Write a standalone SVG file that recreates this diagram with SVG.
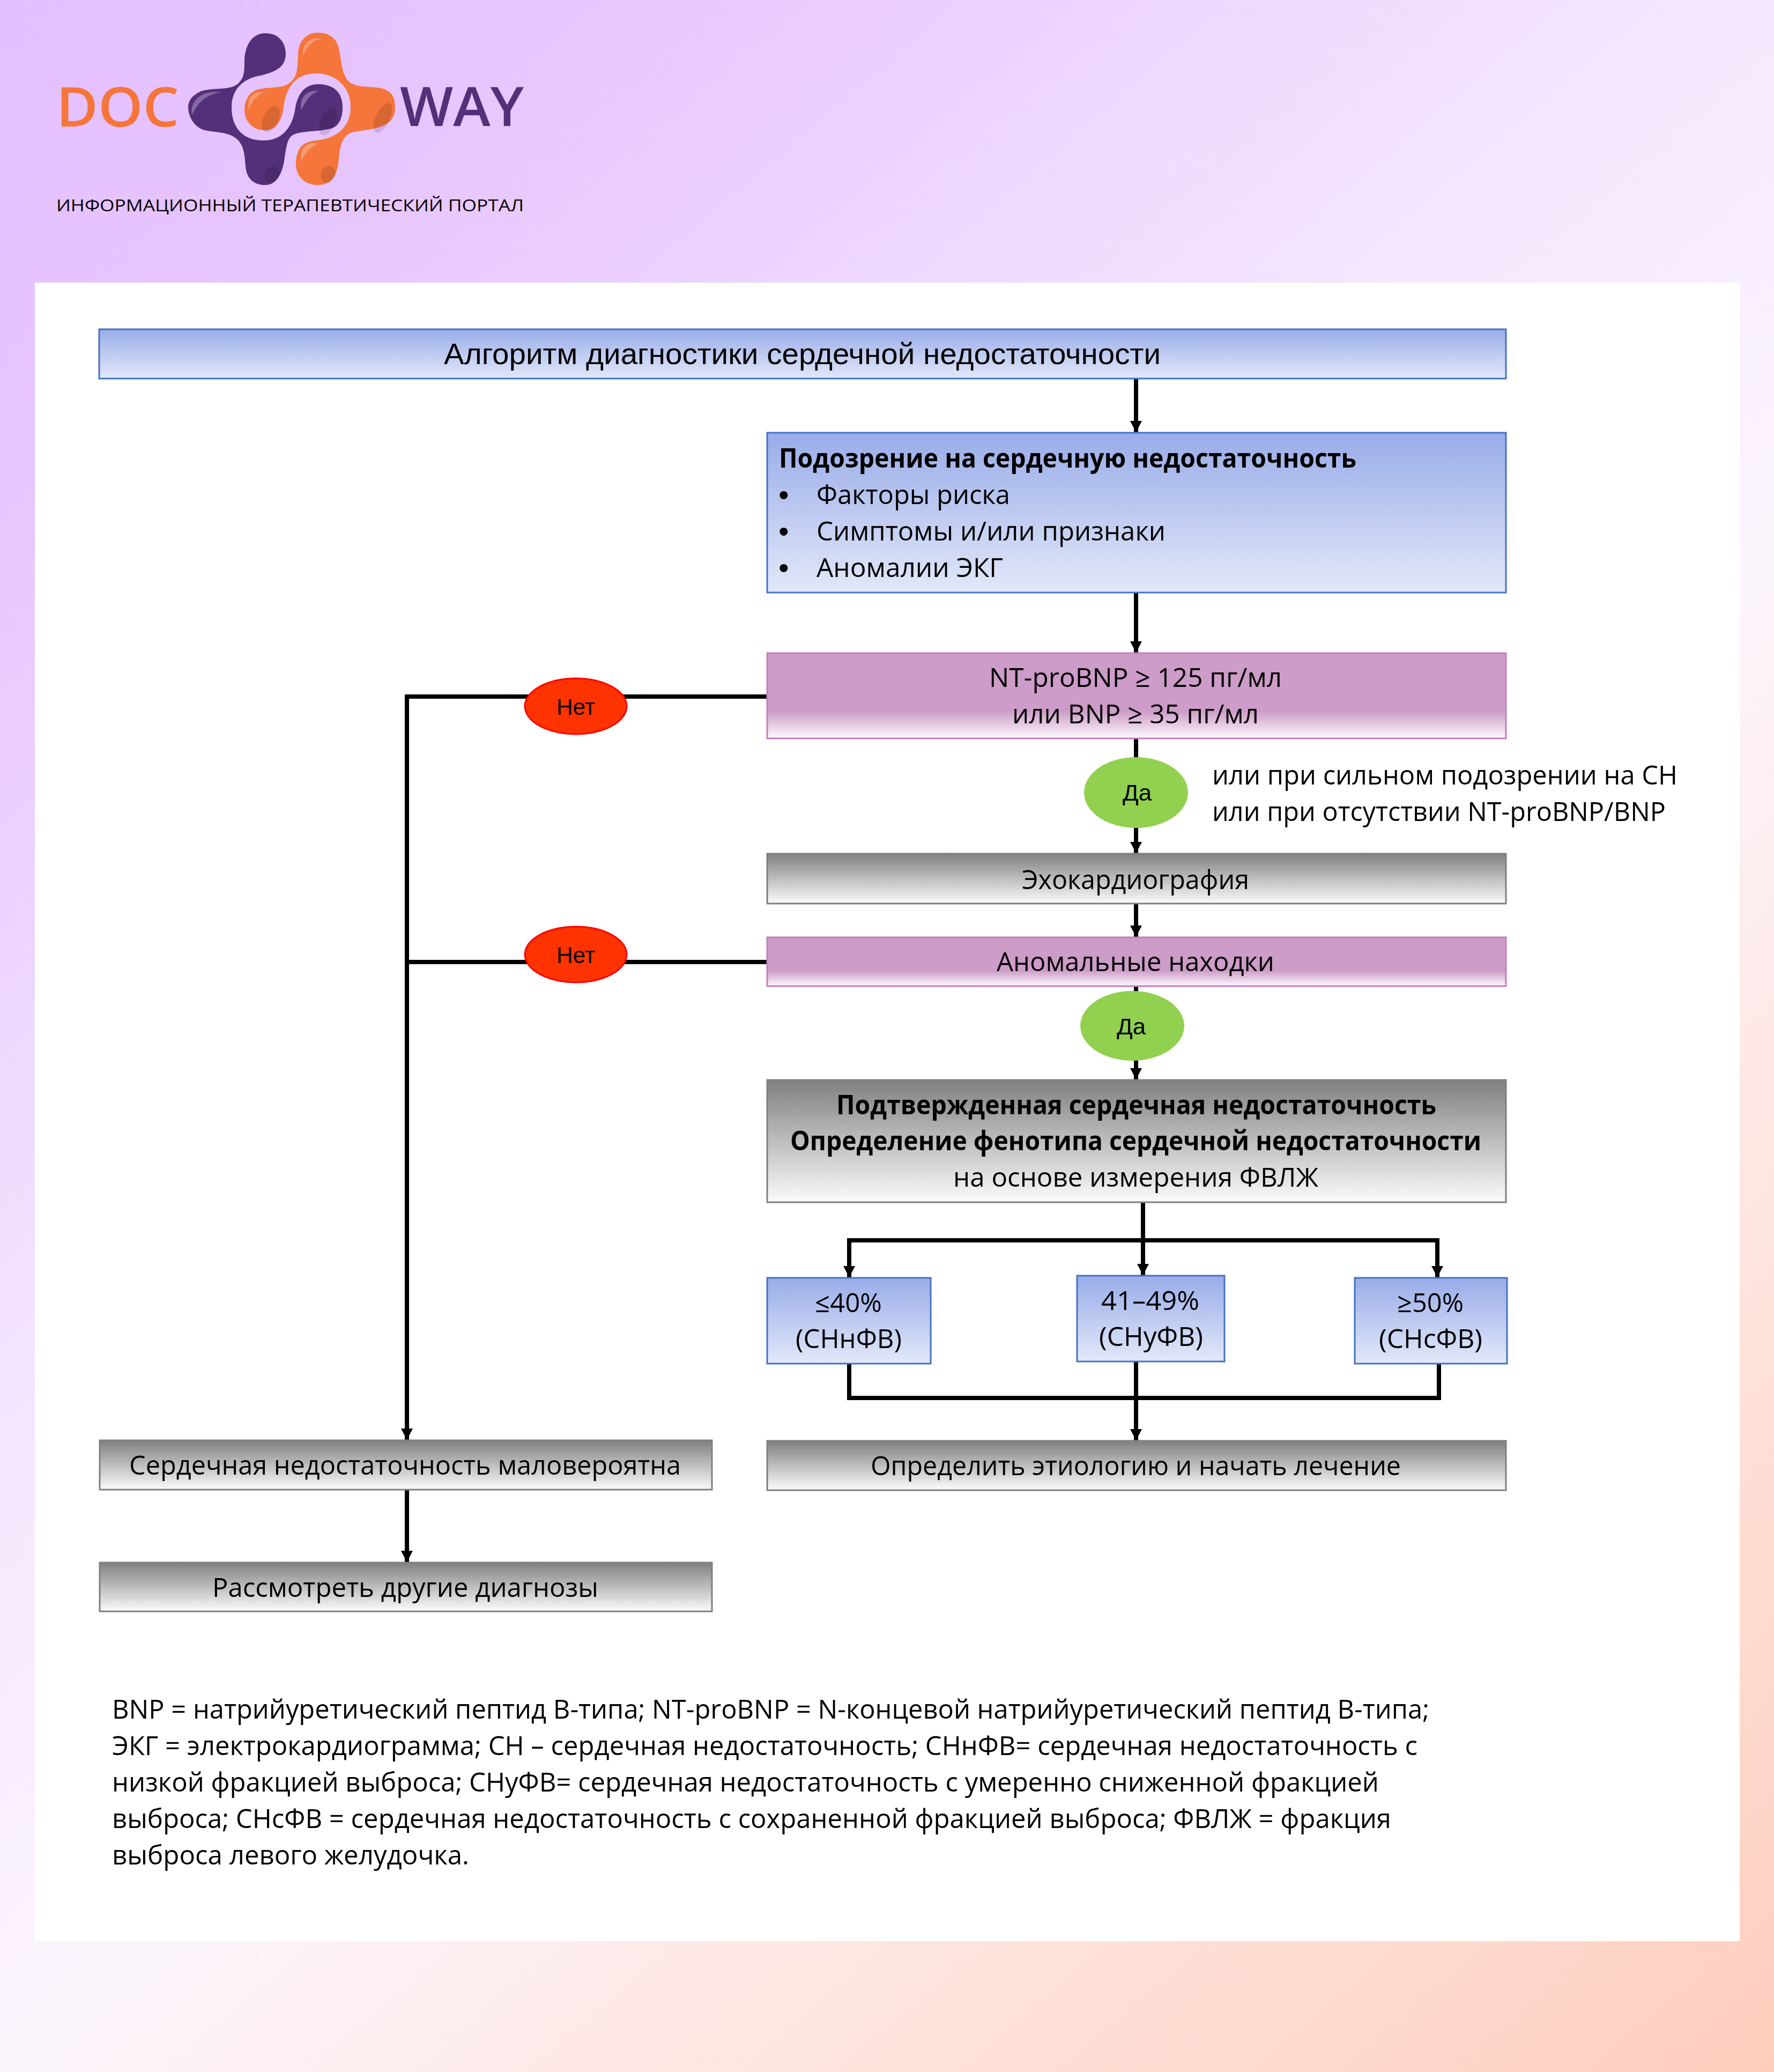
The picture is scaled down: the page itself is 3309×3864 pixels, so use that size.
<svg xmlns="http://www.w3.org/2000/svg" width="3309" height="3864" viewBox="0 0 3309 3864">
<defs>
<linearGradient id="bg" gradientUnits="userSpaceOnUse" x1="0" y1="0" x2="3309" y2="3864">
<stop offset="0" stop-color="#e4bfff"/><stop offset="0.14" stop-color="#e7c5ff"/><stop offset="0.42" stop-color="#f4e8fe"/><stop offset="0.577" stop-color="#fcf5fd"/><stop offset="0.79" stop-color="#fee2da"/><stop offset="1" stop-color="#fecdbd"/>
</linearGradient>
<linearGradient id="blue" x1="0" y1="0" x2="0" y2="1"><stop offset="0" stop-color="#98ace8"/><stop offset="1" stop-color="#e3e8f9"/></linearGradient>
<linearGradient id="pink" x1="0" y1="0" x2="0" y2="1"><stop offset="0" stop-color="#cd9cc8"/><stop offset="0.68" stop-color="#cd9cc8"/><stop offset="1" stop-color="#fdfafd"/></linearGradient>
<linearGradient id="grey" x1="0" y1="0" x2="0" y2="1"><stop offset="0" stop-color="#808080"/><stop offset="1" stop-color="#fbfbfb"/></linearGradient>
<marker id="arrow" markerUnits="userSpaceOnUse" markerWidth="22" markerHeight="22" refX="21" refY="11" orient="auto"><path d="M0 0L21 11L0 22z" fill="#000"/></marker>
</defs>
<style>
text{font-family:"Open Sans","Noto Sans","Liberation Sans",sans-serif;font-size:50px;fill:#000}
.b{font-weight:700}
.ar{font-family:"Liberation Sans",Arial,sans-serif;font-size:42px}
.dot{font-family:"Liberation Sans",Arial,sans-serif;font-size:56px}
.line{fill:none;stroke:#000;stroke-width:8}
.arr{marker-end:url(#arrow)}
.bl{fill:url(#blue);stroke:#4472c4;stroke-width:3}
.pk{fill:url(#pink);stroke:#c27fbd;stroke-width:3}
.gr{fill:url(#grey);stroke:#7f7f7f;stroke-width:3}
.no{fill:#ff3300;stroke:#ff0000;stroke-width:3}
.yes{fill:#92d050;stroke:none}
.pu{fill:#54307a}.or{fill:#f5753a}
.hi{fill:#fff;opacity:.28}.sh{fill:#000;opacity:.12}
</style>
<rect width="3309" height="3864" fill="url(#bg)"/>
<rect x="65" y="527" width="3180" height="3093" fill="#fff"/>

<g id="logo">
<path class="pu" d="M495 62C470 62 456 85 456 115C456 135 455 145 445 155C430 170 400 162 375 170C358 178 351 188 351 200C351 215 360 235 379 242C400 248 425 245 440 258C456 270 456 290 458 310C460 335 475 345 495 345C515 345 526 325 530 300C534 275 535 255 550 250C570 243 600 246 622 238C635 232 639 215 639 200C639 180 630 157 593 157C565 157 555 180 551 200C548 225 535 262 491 262C455 262 432 240 432 200C432 165 455 148 480 142C515 135 533 125 533 100C533 80 520 62 495 62Z"/>
<path class="or" d="M593 61C570 61 557 78 556 100C555 125 555 140 545 150C530 168 505 160 480 167C462 173 456 190 456 205C456 225 470 243 495 243C515 243 526 225 529 200C533 165 550 137 589 137C630 137 654 165 654 200C654 235 630 258 590 262C565 264 555 275 552 300C550 325 565 345 593 345C620 345 630 325 632 295C634 270 640 250 660 246C695 240 737 240 737 200C737 175 725 165 700 163C675 161 655 162 645 145C637 130 636 110 632 90C628 72 615 61 593 61Z"/>
<path class="hi" d="M565 105C563 85 575 68 600 72C585 75 572 85 565 105Z"/>
<path class="hi" d="M464 205C460 185 470 168 495 172C480 176 470 188 464 205Z"/>
<path class="hi" d="M562 205C558 185 570 166 595 170C580 174 570 188 562 205Z"/>
<path class="hi" d="M358 215C354 190 372 168 412 172C385 176 368 192 358 215Z"/>
<path class="hi" d="M562 300C558 280 570 262 595 268C580 272 570 284 562 300Z"/>
<ellipse class="sh" cx="505" cy="222" rx="14" ry="26" transform="rotate(25 505 222)"/>
<ellipse class="sh" cx="612" cy="226" rx="14" ry="28" transform="rotate(25 612 226)"/>
<ellipse class="sh" cx="714" cy="220" rx="13" ry="30" transform="rotate(25 714 220)"/>
<ellipse class="sh" cx="507" cy="325" rx="13" ry="16" transform="rotate(25 507 325)"/>
<ellipse class="sh" cx="612" cy="325" rx="13" ry="16" transform="rotate(25 612 325)"/>
<text x="105" y="236" textLength="229" lengthAdjust="spacingAndGlyphs" style="font-size:102px;font-weight:600;fill:#f5753a">DOC</text>
<text x="746" y="235" textLength="231" lengthAdjust="spacingAndGlyphs" style="font-size:102px;font-weight:600;fill:#54307a">WAY</text>
<text x="105" y="394" textLength="872" lengthAdjust="spacingAndGlyphs" style="font-size:31px">ИНФОРМАЦИОННЫЙ ТЕРАПЕВТИЧЕСКИЙ ПОРТАЛ</text>
</g>

<g id="connectors">
<path class="line arr" d="M2119 706V806"/>
<path class="line arr" d="M2119 1105V1217"/>
<path class="line arr" d="M2119 1378V1591"/>
<path class="line arr" d="M2119 1685V1747"/>
<path class="line arr" d="M2119 1839V2013"/>
<path class="line arr" d="M2132 2242V2378"/>
<path class="line arr" d="M2681 2313H1584V2382"/>
<path class="line arr" d="M2132 2313H2681V2382"/>
<path class="line" d="M1584 2543V2607H2684V2543"/>
<path class="line arr" d="M2119 2539V2686"/>
<path class="line arr" d="M1430 1299H759V2685"/>
<path class="line" d="M1430 1794H759"/>
<path class="line arr" d="M759 2779V2913"/>
</g>

<g id="n-title"><rect class="bl" x="185" y="614" width="2624" height="92"/><text class="ar" x="828" y="679" textLength="1337" lengthAdjust="spacingAndGlyphs" style="font-size:56px">Алгоритм диагностики сердечной недостаточности</text></g>
<g id="n-suspect"><rect class="bl" x="1431" y="807" width="1378" height="298"/>
<text class="b" x="1453" y="872" textLength="1077" lengthAdjust="spacingAndGlyphs">Подозрение на сердечную недостаточность</text>
<text class="dot" x="1452" y="942">•</text><text x="1523" y="940" textLength="361" lengthAdjust="spacingAndGlyphs">Факторы риска</text>
<text class="dot" x="1452" y="1010">•</text><text x="1523" y="1008" textLength="651" lengthAdjust="spacingAndGlyphs">Симптомы и/или признаки</text>
<text class="dot" x="1452" y="1078">•</text><text x="1523" y="1076" textLength="348" lengthAdjust="spacingAndGlyphs">Аномалии ЭКГ</text></g>
<g id="n-nt"><rect class="pk" x="1431" y="1218" width="1378" height="159"/>
<text x="1845" y="1281" textLength="546" lengthAdjust="spacingAndGlyphs">NT-proBNP ≥ 125 пг/мл</text>
<text x="1888" y="1349" textLength="460" lengthAdjust="spacingAndGlyphs">или BNP ≥ 35 пг/мл</text></g>
<g id="n-no1"><ellipse class="no" cx="1074" cy="1317" rx="95" ry="52"/><text class="ar" x="1038" y="1333" textLength="72" lengthAdjust="spacingAndGlyphs">Нет</text></g>
<g id="n-yes1"><ellipse class="yes" cx="2119" cy="1478" rx="97" ry="66"/><text class="ar" x="2094" y="1493" textLength="54" lengthAdjust="spacingAndGlyphs">Да</text></g>
<g id="n-note"><text x="2261" y="1463" textLength="868" lengthAdjust="spacingAndGlyphs">или при сильном подозрении на СН</text>
<text x="2261" y="1531" textLength="846" lengthAdjust="spacingAndGlyphs">или при отсутствии NT-proBNP/BNP</text></g>
<g id="n-echo"><rect class="gr" x="1431" y="1592" width="1378" height="93"/><text x="1906" y="1658" textLength="424" lengthAdjust="spacingAndGlyphs">Эхокардиография</text></g>
<g id="n-abn"><rect class="pk" x="1431" y="1748" width="1378" height="91"/><text x="1859" y="1811" textLength="518" lengthAdjust="spacingAndGlyphs">Аномальные находки</text></g>
<g id="n-no2"><ellipse class="no" cx="1074" cy="1780" rx="95" ry="52"/><text class="ar" x="1038" y="1796" textLength="72" lengthAdjust="spacingAndGlyphs">Нет</text></g>
<g id="n-yes2"><ellipse class="yes" cx="2112" cy="1913" rx="97" ry="65"/><text class="ar" x="2083" y="1929" textLength="54" lengthAdjust="spacingAndGlyphs">Да</text></g>
<g id="n-conf"><rect class="gr" x="1431" y="2014" width="1378" height="228"/>
<text class="b" x="1560" y="2078" textLength="1119" lengthAdjust="spacingAndGlyphs">Подтвержденная сердечная недостаточность</text>
<text class="b" x="1474" y="2145" textLength="1289" lengthAdjust="spacingAndGlyphs">Определение фенотипа сердечной недостаточности</text>
<text x="1778" y="2213" textLength="681" lengthAdjust="spacingAndGlyphs">на основе измерения ФВЛЖ</text></g>
<g id="n-ef1"><rect class="bl" x="1431" y="2383" width="305" height="160"/><text x="1520" y="2447" textLength="125" lengthAdjust="spacingAndGlyphs">≤40%</text><text x="1484" y="2514" textLength="198" lengthAdjust="spacingAndGlyphs">(СНнФВ)</text></g>
<g id="n-ef2"><rect class="bl" x="2009" y="2379" width="275" height="160"/><text x="2054" y="2443" textLength="183" lengthAdjust="spacingAndGlyphs">41–49%</text><text x="2050" y="2510" textLength="194" lengthAdjust="spacingAndGlyphs">(СНуФВ)</text></g>
<g id="n-ef3"><rect class="bl" x="2527" y="2383" width="284" height="160"/><text x="2606" y="2447" textLength="124" lengthAdjust="spacingAndGlyphs">≥50%</text><text x="2572" y="2514" textLength="193" lengthAdjust="spacingAndGlyphs">(СНсФВ)</text></g>
<g id="n-treat"><rect class="gr" x="1431" y="2687" width="1378" height="92"/><text x="1624" y="2751" textLength="989" lengthAdjust="spacingAndGlyphs">Определить этиологию и начать лечение</text></g>
<g id="n-unlikely"><rect class="gr" x="186" y="2686" width="1142" height="92"/><text x="241" y="2750" textLength="1029" lengthAdjust="spacingAndGlyphs">Сердечная недостаточность маловероятна</text></g>
<g id="n-other"><rect class="gr" x="186" y="2914" width="1142" height="91"/><text x="396" y="2978" textLength="720" lengthAdjust="spacingAndGlyphs">Рассмотреть другие диагнозы</text></g>
<g id="legend">
<text x="209" y="3205" textLength="2457" lengthAdjust="spacingAndGlyphs">BNP = натрийуретический пептид B-типа; NT-proBNP = N-концевой натрийуретический пептид B-типа;</text>
<text x="209" y="3273" textLength="2435" lengthAdjust="spacingAndGlyphs">ЭКГ = электрокардиограмма; СН – сердечная недостаточность; СНнФВ= сердечная недостаточность с</text>
<text x="209" y="3341" textLength="2363" lengthAdjust="spacingAndGlyphs">низкой фракцией выброса; СНуФВ= сердечная недостаточность с умеренно сниженной фракцией</text>
<text x="209" y="3409" textLength="2386" lengthAdjust="spacingAndGlyphs">выброса; СНсФВ = сердечная недостаточность с сохраненной фракцией выброса; ФВЛЖ = фракция</text>
<text x="209" y="3477" textLength="666" lengthAdjust="spacingAndGlyphs">выброса левого желудочка.</text>
</g>
</svg>
